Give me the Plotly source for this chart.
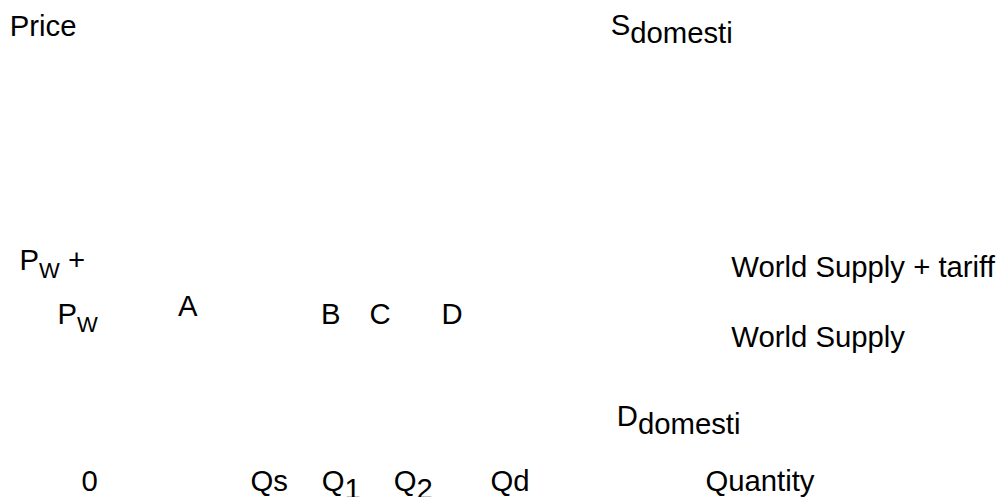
import plotly.graph_objects as go

FONT = "Liberation Sans, Arial, sans-serif"
FS = 29.3

# Main labels of the tariff diagram: text, left x, baseline y (chart units = pixels)
main_text = ["Price", "S", "P", "+", "P", "A", "B", "C", "D",
             "World Supply + tariff", "World Supply", "D",
             "0", "Qs", "Q", "Q", "Qd", "Quantity"]
main_x = [9.7, 610.7, 19.4, 67.9, 57.5, 178, 321, 369.5, 441.5,
          731.3, 731.3, 616.7,
          81.5, 250.4, 321.7, 393.7, 490.4, 705.4]
main_base = [36, 35, 270, 270, 324, 316, 324, 324, 324,
             277, 347, 426,
             491, 491, 491, 491, 491, 491]

# Subscripts
sub_text = ["domesti", "W", "W", "domesti", "1", "2"]
sub_x = [630.2, 39, 77, 637.9, 344.5, 416.5]
sub_base = [43, 278, 332, 434, 499, 499]
sub_size = [29.3, 22, 22, 29.3, 29.3, 29.3]

W, H = 1002, 497


def text_trace(texts, xs, bases, sizes):
    # textposition "middle right" puts the baseline 0.25*size below the point
    ys = [b - 0.25 * s for b, s in zip(bases, sizes)]
    return go.Scatter(
        x=xs, y=ys, text=texts, mode="text",
        textposition="middle right",
        textfont=dict(family=FONT, size=sizes, color="#000000"),
        hoverinfo="skip", showlegend=False, cliponaxis=False,
    )


fig = go.Figure()
fig.add_trace(text_trace(main_text, main_x, main_base, [FS] * len(main_text)))
fig.add_trace(text_trace(sub_text, sub_x, sub_base, sub_size))

fig.update_layout(
    width=W, height=H, autosize=False,
    margin=dict(l=0, r=0, t=0, b=0, pad=0),
    paper_bgcolor="#ffffff", plot_bgcolor="#ffffff",
    xaxis=dict(range=[0, W], visible=False, fixedrange=True),
    yaxis=dict(range=[H, 0], visible=False, fixedrange=True),
)

fig.write_html("out.html", config={"displayModeBar": False},
               post_script="document.body.style.margin='0';document.body.style.overflow='hidden';")
